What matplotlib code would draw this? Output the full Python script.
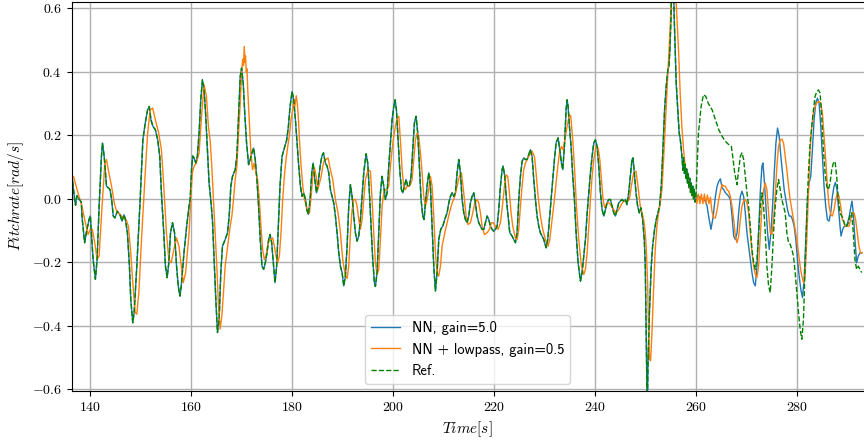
import numpy as np
import matplotlib
matplotlib.use("Agg")
import matplotlib.pyplot as plt

# reference pitch rate (the NN run follows it until ~260 s)
ref_t = [136.33, 137.0, 137.2, 137.47, 137.87, 138.33, 138.53, 139.0, 139.33, 139.87,
         140.13, 140.67, 141.13, 141.47, 141.87, 142.33, 142.53, 142.87, 143.33, 144.0,
         144.33, 144.67, 145.0, 145.47, 146.0, 146.4, 146.8, 147.07, 147.47, 147.87,
         148.13, 148.53, 148.8, 149.33, 150.0, 150.53, 151.0, 151.47, 151.8, 152.13,
         152.53, 153.0, 153.47, 153.87, 154.2, 154.67, 155.0, 155.33, 155.67, 156.0,
         156.4, 156.8, 157.2, 157.53, 157.87, 158.13, 158.67, 159.2, 159.67, 159.9,
         160.2, 160.4, 160.66, 160.99, 161.32, 161.66, 161.99, 162.32, 162.65, 162.98,
         163.31, 163.64, 163.97, 164.3, 164.64, 164.97, 165.3, 165.63, 165.96, 166.29,
         166.82, 167.28, 167.62, 167.95, 168.28, 168.81, 169.14, 169.47, 169.8, 170.07,
         170.4, 170.73, 171.06, 171.46, 171.79, 172.12, 172.45, 172.78, 173.11, 173.44,
         173.77, 174.11, 174.44, 174.77, 175.1, 175.43, 175.7, 176.03, 176.36, 176.69,
         177.02, 177.35, 177.68, 178.08, 178.54, 179.01, 179.34, 179.67, 180.07, 180.4,
         180.73, 181.06, 181.39, 181.72, 182.05, 182.38, 182.72, 182.98, 183.31, 183.64,
         183.97, 184.24, 184.57, 184.9, 185.23, 185.63, 185.96, 186.29, 186.67, 187.0,
         187.33, 187.66, 187.99, 188.32, 188.65, 188.98, 189.31, 189.64, 189.97, 190.3,
         190.63, 190.96, 191.29, 191.62, 191.95, 192.28, 192.61, 192.94, 193.27, 193.6,
         193.93, 194.26, 194.72, 195.05, 195.38, 195.71, 196.04, 196.37, 196.57, 196.9,
         197.23, 197.56, 197.89, 198.22, 198.55, 198.88, 199.21, 199.54, 199.87, 200.2,
         200.46, 200.73, 201.06, 201.39, 201.72, 201.98, 202.31, 202.64, 202.97, 203.3,
         203.63, 203.96, 204.29, 204.62, 204.95, 205.28, 205.61, 205.94, 206.2, 206.47,
         206.8, 207.13, 207.46, 207.79, 208.12, 208.45, 208.78, 209.11, 209.5, 209.9,
         210.3, 210.76, 211.09, 211.42, 211.75, 212.08, 212.41, 212.74, 213.07, 213.4,
         213.73, 214.06, 214.39, 214.72, 215.05, 215.38, 215.71, 216.04, 216.37, 216.7,
         217.03, 217.36, 217.69, 218.02, 218.35, 218.68, 219.01, 219.34, 219.67, 220.0,
         220.33, 220.66, 220.99, 221.32, 221.65, 221.85, 222.18, 222.51, 222.84, 223.17,
         223.63, 223.96, 224.29, 224.62, 224.95, 225.28, 225.61, 225.94, 226.27, 226.6,
         226.93, 227.26, 227.59, 227.92, 228.25, 228.58, 228.91, 229.24, 229.57, 229.9,
         230.36, 230.69, 231.02, 231.35, 231.68, 232.01, 232.34, 232.74, 233.07, 233.4,
         233.66, 233.99, 234.32, 234.52, 234.72, 234.98, 235.31, 235.64, 235.97, 236.3,
         236.7, 237.16, 237.49, 237.82, 238.15, 238.49, 238.82, 239.14, 239.47, 239.8,
         240.13, 240.46, 240.79, 241.12, 241.45, 241.78, 242.11, 242.43, 242.76, 243.09,
         243.42, 243.75, 244.08, 244.41, 244.74, 245.07, 245.39, 245.72, 246.05, 246.38,
         246.71, 247.04, 247.37, 247.57, 247.83, 248.16, 248.49, 248.82, 249.14, 249.47,
         249.8, 250.0, 250.13, 250.26, 250.39, 250.53, 250.79, 251.18, 251.45, 251.84,
         252.17, 252.5, 252.83, 253.16, 253.49, 253.82, 254.14, 254.47, 254.67, 254.87,
         255.07, 255.26, 255.59, 255.72, 255.92, 256.12, 256.32, 256.51, 256.71, 256.91,
         257.11, 257.3, 257.45, 257.6, 257.75, 257.9, 258.05, 258.2, 258.35, 258.5,
         258.65, 258.8, 258.95, 259.1, 259.25, 259.4, 259.55, 259.7, 259.85, 260.0,
         260.53, 261.05, 261.51, 261.97, 262.5, 263.22, 263.88, 264.54, 265.2, 265.86,
         266.51, 267.04, 267.3, 267.7, 268.16, 268.49, 268.82, 269.14, 269.47, 269.8,
         270.13, 270.46, 270.79, 271.12, 271.45, 271.78, 272.11, 272.43, 272.76, 273.09,
         273.42, 273.75, 274.08, 274.41, 274.74, 275.07, 275.39, 275.72, 276.05, 276.38,
         276.71, 277.04, 277.37, 277.7, 278.03, 278.36, 278.68, 279.01, 279.34, 279.67,
         280.0, 280.33, 280.66, 280.99, 281.32, 281.64, 281.97, 282.3, 282.63, 282.96,
         283.29, 283.62, 283.95, 284.28, 284.61, 284.93, 285.26, 285.59, 285.92, 286.25,
         286.58, 286.91, 287.24, 287.57, 287.89, 288.22, 288.55, 288.88, 289.21, 289.54,
         289.87, 290.2, 290.53, 290.86, 291.18, 291.51, 291.84, 292.17, 292.5, 292.83]
ref_v = [0.10, 0.0, -0.02, 0.01, 0.0, -0.01, -0.065, -0.138, -0.107, -0.065,
         -0.054, -0.19, -0.253, -0.19, -0.023, 0.134, 0.176, 0.134, 0.04, 0.03,
         0.0, -0.054, -0.06, -0.039, -0.05, -0.07, -0.05, -0.065, -0.107, -0.212,
         -0.316, -0.39, -0.358, -0.212, 0.0, 0.186, 0.239, 0.281, 0.291, 0.249,
         0.228, 0.218, 0.186, 0.134, 0.019, -0.107, -0.212, -0.248, -0.201, -0.107,
         -0.075, -0.107, -0.212, -0.274, -0.306, -0.274, -0.17, -0.086, -0.023, 0.0,
         0.10, 0.135, 0.129, 0.113, 0.134, 0.207, 0.312, 0.375, 0.343, 0.26,
         0.155, 0.05, -0.002, -0.065, -0.191, -0.316, -0.421, -0.379, -0.232, -0.149,
         -0.128, -0.107, -0.054, 0.04, 0.071, 0.092, 0.134, 0.26, 0.385, 0.412,
         0.364, 0.26, 0.176, 0.108, 0.124, 0.145, 0.16, 0.124, 0.061, -0.023,
         -0.128, -0.212, -0.222, -0.201, -0.17, -0.128, -0.112, -0.138, -0.201, -0.264,
         -0.212, -0.086, 0.04, 0.134, 0.16, 0.186, 0.228, 0.291, 0.338, 0.312,
         0.249, 0.176, 0.103, 0.04, 0.008, 0.019, -0.002, -0.034, -0.049, -0.002,
         0.082, 0.113, 0.061, 0.019, 0.05, 0.103, 0.134, 0.145, 0.113, 0.103,
         0.082, 0.029, 0.008, -0.013, -0.054, -0.107, -0.17, -0.212, -0.232, -0.274,
         -0.243, -0.149, -0.023, 0.045, 0.008, -0.054, -0.107, -0.133, -0.117, -0.065,
         0.008, 0.082, 0.142, 0.113, 0.019, -0.086, -0.191, -0.264, -0.276, -0.232,
         -0.107, 0.019, 0.071, 0.04, -0.002, 0.019, 0.103, 0.176, 0.249, 0.291,
         0.312, 0.281, 0.186, 0.092, 0.029, 0.019, 0.04, 0.061, 0.04, 0.04,
         0.071, 0.155, 0.239, 0.26, 0.207, 0.103, -0.002, -0.054, -0.065, -0.013,
         0.04, 0.082, 0.04, -0.086, -0.212, -0.29, -0.232, -0.128, -0.096, -0.086,
         -0.065, -0.044, -0.013, 0.008, 0.019, 0.008, 0.019, 0.082, 0.124, 0.082,
         -0.002, -0.044, -0.065, -0.075, -0.054, -0.013, 0.008, 0.019, -0.013, -0.054,
         -0.075, -0.086, -0.096, -0.096, -0.075, -0.054, -0.065, -0.086, -0.096, -0.102,
         -0.096, -0.086, -0.034, 0.04, 0.092, 0.103, 0.071, -0.002, -0.054, -0.107,
         -0.117, -0.128, -0.138, -0.107, -0.002, 0.071, 0.118, 0.129, 0.124, 0.124,
         0.139, 0.155, 0.134, 0.061, -0.002, -0.054, -0.086, -0.107, -0.117, -0.128,
         -0.154, -0.128, -0.065, -0.002, 0.061, 0.124, 0.176, 0.192, 0.155, 0.113,
         0.092, 0.165, 0.281, 0.312, 0.291, 0.228, 0.165, 0.071, -0.002, -0.107,
         -0.201, -0.259, -0.232, -0.18, -0.128, -0.044, 0.019, 0.082, 0.134, 0.176,
         0.186, 0.165, 0.103, 0.019, -0.034, -0.054, -0.034, -0.013, -0.002, -0.002,
         -0.023, -0.044, -0.054, -0.034, -0.013, -0.007, -0.002, -0.007, -0.002, -0.018,
         0.019, 0.071, 0.124, 0.129, 0.082, 0.019, -0.023, -0.044, -0.028, -0.065,
         -0.128, -0.212, -0.369, -0.526, -0.68, -0.526, -0.369, -0.212, -0.149, -0.096,
         -0.065, -0.044, -0.023, 0.04, 0.155, 0.281, 0.354, 0.406, 0.417, 0.469,
         0.563, 0.68, 0.68, 0.574, 0.469, 0.364, 0.312, 0.26, 0.207, 0.19,
         0.16, 0.124, 0.09, 0.13, 0.08, 0.11, 0.065, 0.095, 0.05, 0.08,
         0.035, 0.065, 0.02, 0.05, 0.01, 0.04, 0.0, 0.03, -0.01, 0.0,
         0.207, 0.291, 0.328, 0.323, 0.30, 0.281, 0.249, 0.218, 0.197, 0.181,
         0.171, 0.165, 0.134, 0.082, 0.045, 0.092, 0.134, 0.145, 0.124, 0.071,
         0.019, -0.023, -0.086, -0.159, -0.201, -0.222, -0.191, -0.107, -0.023, 0.019,
         -0.023, -0.107, -0.212, -0.274, -0.295, -0.212, -0.107, -0.023, 0.029, 0.061,
         0.029, -0.002, -0.023, -0.044, -0.107, -0.138, -0.143, -0.159, -0.18, -0.232,
         -0.295, -0.358, -0.41, -0.442, -0.379, -0.212, -0.054, 0.082, 0.176, 0.228,
         0.281, 0.323, 0.338, 0.343, 0.333, 0.26, 0.155, 0.082, 0.04, 0.029,
         0.05, 0.092, 0.113, 0.118, 0.071, -0.002, -0.044, -0.054, -0.065, -0.086,
         -0.086, -0.075, -0.054, -0.044, -0.107, -0.191, -0.222, -0.212, -0.222, -0.232]

# NN (gain 5.0) after it leaves the reference
nn_tail_t = [260.3, 260.8, 261.3, 261.8, 262.2, 262.6, 263.0, 263.4, 263.88, 264.21,
             264.54, 264.87, 265.2, 265.53, 265.86, 266.18, 266.51, 266.84, 267.17, 267.5,
             267.83, 268.16, 268.49, 268.82, 269.14, 269.47, 269.8, 270.13, 270.46, 270.79,
             271.12, 271.45, 271.78, 272.11, 272.43, 272.76, 273.09, 273.29, 273.55, 273.88,
             274.21, 274.54, 274.87, 275.2, 275.53, 275.86, 276.18, 276.51, 276.84, 277.17,
             277.5, 277.83, 278.16, 278.49, 278.82, 279.14, 279.47, 279.8, 280.13, 280.46,
             280.79, 281.12, 281.45, 281.78, 282.11, 282.43, 282.76, 283.09, 283.42, 283.75,
             284.08, 284.41, 284.74, 285.07, 285.39, 285.72, 286.05, 286.38, 286.71, 287.04,
             287.37, 287.63, 287.96, 288.22, 288.55, 288.75, 289.08, 289.41, 289.74, 290.07,
             290.39, 290.72, 290.92, 291.18, 291.51, 291.84, 292.17, 292.5, 292.83]
nn_tail_v = [0.01, 0.005, 0.0, -0.005, -0.02, -0.06, -0.096, -0.06, 0.008, 0.04,
             0.055, 0.063, 0.035, 0.029, 0.019, 0.014, 0.008, -0.002, -0.054, -0.117,
             -0.128, -0.107, -0.044, 0.008, 0.024, 0.008, -0.044, -0.107, -0.149, -0.191,
             -0.232, -0.264, -0.274, -0.212, -0.107, 0.019, 0.103, 0.113, 0.061, -0.023,
             -0.107, -0.159, -0.107, -0.023, 0.082, 0.176, 0.223, 0.197, 0.134, 0.082,
             0.029, -0.002, -0.034, -0.054, -0.054, -0.065, -0.086, -0.128, -0.191, -0.243,
             -0.285, -0.311, -0.253, -0.128, 0.0, 0.05, 0.071, 0.155, 0.249, 0.302,
             0.317, 0.302, 0.228, 0.134, 0.04, -0.023, -0.065, -0.07, -0.044, 0.008,
             0.04, 0.052, 0.029, -0.023, -0.086, -0.117, -0.096, -0.086, -0.086, -0.075,
             -0.054, -0.023, -0.007, -0.044, -0.128, -0.201, -0.18, -0.17, -0.17]

# NN + lowpass (gain 0.5)
lp_t = [136.33, 136.8, 137.33, 137.87, 138.33, 139.0, 139.67, 140.13, 140.53, 141.0,
        141.47, 141.87, 142.33, 143.0, 143.33, 143.67, 144.33, 144.87, 145.33, 146.0,
        146.67, 147.2, 147.67, 148.13, 148.53, 149.0, 149.33, 149.73, 150.33, 151.0,
        151.47, 152.0, 152.47, 153.0, 153.67, 154.2, 154.67, 155.2, 155.67, 156.13,
        156.67, 157.2, 157.67, 158.13, 158.53, 159.0, 159.67, 160.0, 160.33, 160.66,
        161.13, 161.66, 162.19, 162.65, 163.11, 163.51, 163.84, 164.17, 164.5, 164.83,
        165.17, 165.5, 165.83, 166.16, 166.49, 166.82, 167.15, 167.48, 167.81, 168.15,
        168.48, 168.81, 169.14, 169.47, 169.8, 170.1, 170.3, 170.45, 170.6, 170.75,
        170.85, 171.0, 171.15, 171.3, 171.59, 171.92, 172.25, 172.58, 172.91, 173.25,
        173.58, 173.91, 174.24, 174.57, 174.9, 175.23, 175.56, 175.89, 176.23, 176.56,
        176.89, 177.22, 177.55, 177.88, 178.21, 178.54, 178.87, 179.21, 179.54, 179.87,
        180.2, 180.45, 180.6, 180.9, 181.1, 181.3, 181.52, 181.85, 182.19, 182.52,
        182.85, 183.18, 183.51, 183.84, 184.17, 184.5, 184.83, 185.17, 185.5, 185.83,
        186.16, 186.49, 186.8, 187.19, 187.66, 188.12, 188.65, 189.17, 189.64, 190.1,
        190.63, 190.96, 191.29, 191.62, 191.95, 192.28, 192.61, 192.94, 193.27, 193.6,
        193.93, 194.26, 194.59, 195.12, 195.58, 195.91, 196.24, 196.57, 196.9, 197.23,
        197.56, 197.89, 198.22, 198.55, 198.88, 199.21, 199.54, 199.87, 200.2, 200.53,
        200.86, 201.19, 201.52, 201.85, 202.18, 202.51, 202.84, 203.17, 203.5, 203.83,
        204.16, 204.49, 204.82, 205.15, 205.48, 205.81, 206.14, 206.47, 206.8, 207.13,
        207.46, 207.79, 208.12, 208.45, 208.78, 209.11, 209.44, 209.77, 210.3, 210.76,
        211.22, 211.75, 212.28, 212.74, 213.2, 213.6, 214.06, 214.52, 214.92, 215.38,
        215.84, 216.24, 216.7, 217.03, 217.36, 217.69, 218.15, 218.68, 219.14, 219.54,
        219.87, 220.33, 220.86, 221.32, 221.78, 222.18, 222.44, 222.77, 223.1, 223.43,
        223.76, 224.29, 224.62, 224.95, 225.28, 225.61, 225.94, 226.27, 226.93, 227.59,
        228.05, 228.38, 228.78, 229.24, 229.7, 230.23, 230.76, 231.09, 231.55, 232.08,
        232.54, 233.0, 233.4, 233.73, 234.06, 234.52, 234.98, 235.25, 235.64, 236.04,
        236.37, 236.83, 237.36, 237.82, 238.15, 238.49, 238.82, 239.14, 239.47, 239.8,
        240.26, 240.66, 240.99, 241.32, 241.64, 241.97, 242.43, 242.89, 243.29, 243.75,
        244.21, 244.74, 245.26, 245.72, 246.38, 246.84, 247.24, 247.7, 248.16, 248.55,
        249.01, 249.34, 249.67, 250.0, 250.2, 250.46, 250.66, 250.86, 251.05, 251.32,
        251.64, 251.97, 252.3, 252.63, 252.96, 253.29, 253.62, 253.95, 254.28, 254.61,
        254.93, 255.26, 255.92, 256.25, 256.58, 256.91, 257.24, 257.57, 257.89, 258.22,
        258.55, 258.9, 259.3, 259.6, 259.9, 260.2, 260.5, 260.8, 261.1, 261.4,
        261.7, 262.0, 262.3, 262.6, 262.9, 263.2, 263.55, 263.88, 264.21, 264.54,
        264.87, 265.2, 265.53, 265.86, 266.18, 266.51, 266.84, 267.17, 267.5, 267.83,
        268.16, 268.49, 268.82, 269.14, 269.47, 269.8, 270.13, 270.46, 270.79, 271.12,
        271.45, 271.78, 272.11, 272.43, 272.76, 273.09, 273.42, 273.75, 274.08, 274.41,
        274.74, 275.07, 275.39, 275.72, 276.05, 276.38, 276.71, 277.04, 277.37, 277.7,
        278.03, 278.36, 278.68, 279.01, 279.34, 279.67, 280.0, 280.33, 280.66, 280.99,
        281.32, 281.64, 281.97, 282.3, 282.63, 282.96, 283.29, 283.62, 283.95, 284.28,
        284.74, 285.07, 285.39, 285.72, 286.05, 286.38, 286.71, 287.04, 287.37, 287.7,
        288.03, 288.36, 288.68, 289.01, 289.34, 289.67, 290.0, 290.33, 290.66, 290.99,
        291.32, 291.64, 291.97, 292.3, 292.63, 292.96]
lp_v = [0.061, 0.071, 0.04, 0.008, -0.013, -0.065, -0.112, -0.096, -0.096, -0.138,
        -0.191, -0.18, -0.054, 0.113, 0.124, 0.092, 0.04, -0.013, -0.039, -0.049,
        -0.06, -0.065, -0.086, -0.17, -0.264, -0.358, -0.363, -0.295, -0.107, 0.082,
        0.207, 0.281, 0.286, 0.249, 0.207, 0.155, 0.04, -0.107, -0.191, -0.201,
        -0.159, -0.123, -0.149, -0.212, -0.264, -0.232, -0.107, -0.002, 0.082, 0.103,
        0.113, 0.145, 0.27, 0.359, 0.323, 0.228, 0.186, 0.103, -0.002, -0.107,
        -0.212, -0.337, -0.41, -0.369, -0.295, -0.212, -0.17, -0.128, -0.086, -0.054,
        -0.002, 0.061, 0.103, 0.207, 0.30, 0.40, 0.44, 0.42, 0.48, 0.43,
        0.45, 0.40, 0.41, 0.34, 0.249, 0.145, 0.092, 0.113, 0.082, 0.061,
        -0.002, -0.086, -0.159, -0.191, -0.18, -0.149, -0.128, -0.128, -0.123, -0.149,
        -0.18, -0.201, -0.18, -0.107, -0.002, 0.071, 0.124, 0.165, 0.20, 0.25,
        0.28, 0.31, 0.29, 0.325, 0.30, 0.26, 0.19, 0.103, 0.04, -0.002,
        -0.018, -0.044, -0.044, 0.008, 0.071, 0.097, 0.071, 0.029, 0.05, 0.071,
        0.103, 0.124, 0.124, 0.129, 0.092, 0.061, -0.002, -0.044, -0.107, -0.191,
        -0.243, -0.251, -0.212, -0.107, -0.034, -0.002, -0.002, -0.023, -0.065, -0.096,
        -0.065, -0.002, 0.061, 0.092, 0.087, -0.002, -0.107, -0.201, -0.238, -0.222,
        -0.128, -0.023, 0.019, 0.029, 0.029, 0.04, 0.103, 0.155, 0.197, 0.228,
        0.254, 0.26, 0.186, 0.092, 0.04, 0.029, 0.04, 0.04, 0.045, 0.061,
        0.124, 0.186, 0.207, 0.197, 0.145, 0.082, 0.008, -0.023, -0.002, 0.029,
        0.071, 0.04, -0.054, -0.17, -0.232, -0.243, -0.212, -0.149, -0.107, -0.075,
        -0.044, -0.013, 0.008, 0.04, 0.071, 0.082, 0.019, -0.054, -0.081, -0.075,
        -0.044, -0.013, -0.002, -0.013, -0.044, -0.086, -0.112, -0.107, -0.096, -0.075,
        -0.075, -0.086, -0.096, -0.075, -0.013, 0.05, 0.076, 0.071, 0.019, -0.044,
        -0.086, -0.123, -0.128, -0.096, -0.023, 0.04, 0.092, 0.113, 0.134, 0.15,
        0.134, 0.082, 0.008, -0.054, -0.096, -0.128, -0.149, -0.128, -0.065, 0.008,
        0.082, 0.145, 0.165, 0.155, 0.186, 0.228, 0.265, 0.26, 0.186, 0.082,
        -0.023, -0.128, -0.212, -0.238, -0.222, -0.17, -0.086, -0.002, 0.071, 0.124,
        0.165, 0.16, 0.124, 0.061, -0.002, -0.028, -0.013, -0.013, -0.023, -0.034,
        -0.044, -0.034, -0.018, -0.007, -0.007, -0.002, 0.04, 0.082, 0.087, 0.04,
        -0.023, -0.044, -0.065, -0.107, -0.159, -0.264, -0.421, -0.505, -0.51, -0.421,
        -0.285, -0.159, -0.086, -0.044, -0.013, 0.029, 0.124, 0.228, 0.333, 0.438,
        0.542, 0.68, 0.68, 0.574, 0.469, 0.333, 0.228, 0.155, 0.103, 0.075,
        0.05, 0.03, 0.015, 0.005, 0.015, -0.015, 0.015, -0.015, 0.015, -0.015,
        0.015, -0.015, 0.012, -0.015, 0.005, -0.04, -0.06, -0.06, -0.034, -0.002,
        0.024, 0.045, 0.04, 0.04, 0.029, 0.024, 0.008, -0.023, -0.065, -0.117,
        -0.138, -0.117, -0.065, -0.023, -0.007, -0.002, -0.013, -0.044, -0.107, -0.17,
        -0.212, -0.238, -0.248, -0.212, -0.117, -0.023, 0.029, 0.05, 0.029, -0.044,
        -0.107, -0.112, -0.065, 0.008, 0.103, 0.165, 0.186, 0.188, 0.176, 0.134,
        0.092, 0.04, -0.002, -0.034, -0.065, -0.096, -0.128, -0.17, -0.212, -0.243,
        -0.264, -0.243, -0.128, 0.019, 0.155, 0.228, 0.27, 0.291, 0.302, 0.307,
        0.302, 0.27, 0.197, 0.124, 0.04, -0.023, -0.049, -0.054, -0.034, -0.002,
        0.019, 0.008, -0.023, -0.065, -0.075, -0.086, -0.086, -0.086, -0.065, -0.044,
        -0.044, -0.065, -0.107, -0.149, -0.17, -0.17]

ref_t = np.array(ref_t)
ref_v = np.array(ref_v)
# before ~260 s the NN run lies on top of the reference
nn_t = np.concatenate([ref_t[ref_t <= 260.0], nn_tail_t])
nn_v = np.concatenate([ref_v[ref_t <= 260.0], nn_tail_v])

plt.rcParams["mathtext.fontset"] = "cm"
plt.rcParams["font.family"] = "serif"
plt.rcParams["font.serif"] = ["cmr10"]
plt.rcParams["axes.formatter.use_mathtext"] = True

fig = plt.figure(figsize=(8.64, 4.41), dpi=100)
ax = fig.add_axes([71.5 / 864, 50 / 441, 1 - 71.5 / 864, 389 / 441])

ax.plot(nn_t, nn_v, color="tab:blue", lw=1.0, label="NN, gain=5.0")
ax.plot(lp_t, lp_v, color="tab:orange", lw=1.0, label="NN + lowpass, gain=0.5")
ax.plot(ref_t, ref_v, color="green", lw=1.0, ls="--", label="Ref.")

ax.set_xlim(136.4, 293.3)
ax.set_ylim(-0.605, 0.62)
ax.set_yticks([-0.6, -0.4, -0.2, 0.0, 0.2, 0.4, 0.6])
ax.set_xticks([140, 160, 180, 200, 220, 240, 260, 280])
ax.tick_params(labelsize=10)
ax.grid(True, color="#b0b0b0", lw=1.0)
ax.spines["right"].set_visible(False)

ax.set_xlabel(r"$Time[s]$", fontsize=11)
ax.set_ylabel(r"$Pitchrate[rad/s]$", fontsize=11)

ax.legend(loc="lower center", prop={"family": "cmss10", "size": 10.5})

fig.savefig("out.png", dpi=100)
